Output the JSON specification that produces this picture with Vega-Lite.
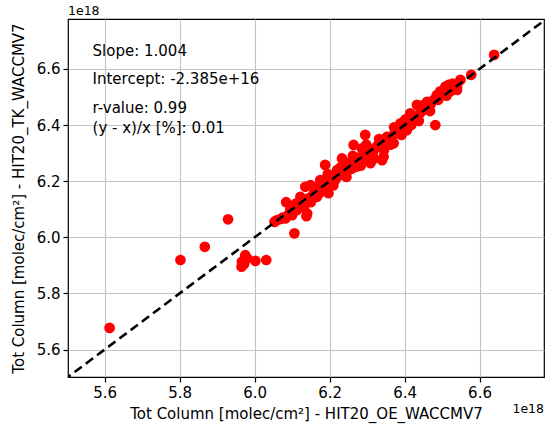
{
  "$schema": "https://vega.github.io/schema/vega-lite/v6.json",
  "width": 476,
  "height": 358,
  "autosize": {"type": "none"},
  "padding": {"left": 68, "top": 19, "right": 3, "bottom": 47},
  "background": "white",
  "title": {"text": "1e18", "anchor": "start", "frame": "group", "fontSize": 12.5, "fontWeight": "normal", "font": "DejaVu Sans", "color": "black", "offset": 2},
  "config": {
    "font": "DejaVu Sans",
    "view": {"stroke": "black", "strokeWidth": 1.2},
    "axis": {
      "domain": false,
      "grid": true,
      "gridColor": "#c4c4c4",
      "gridWidth": 1.1,
      "tickColor": "black",
      "tickSize": 5,
      "tickWidth": 1.2,
      "labelFont": "DejaVu Sans",
      "labelFontSize": 15,
      "labelColor": "black",
      "titleFont": "DejaVu Sans",
      "titleFontSize": 15,
      "titleFontWeight": "normal",
      "titleColor": "black"
    }
  },
  "datasets": {
    "pts": [
      {"x": 5.613, "y": 5.677}, {"x": 5.802, "y": 5.919}, {"x": 5.867, "y": 5.966}, {"x": 5.929, "y": 6.064},
      {"x": 5.965, "y": 5.895}, {"x": 5.966, "y": 5.913}, {"x": 5.975, "y": 5.936}, {"x": 5.980, "y": 5.925},
      {"x": 5.972, "y": 5.905}, {"x": 6.002, "y": 5.916}, {"x": 6.031, "y": 5.919}, {"x": 6.106, "y": 6.014},
      {"x": 6.053, "y": 6.055}, {"x": 6.058, "y": 6.060}, {"x": 6.069, "y": 6.065}, {"x": 6.075, "y": 6.070},
      {"x": 6.082, "y": 6.067}, {"x": 6.084, "y": 6.125}, {"x": 6.090, "y": 6.080}, {"x": 6.095, "y": 6.097},
      {"x": 6.100, "y": 6.079}, {"x": 6.105, "y": 6.100}, {"x": 6.113, "y": 6.097}, {"x": 6.122, "y": 6.144},
      {"x": 6.131, "y": 6.109}, {"x": 6.138, "y": 6.075}, {"x": 6.140, "y": 6.085}, {"x": 6.135, "y": 6.180},
      {"x": 6.145, "y": 6.140}, {"x": 6.149, "y": 6.186}, {"x": 6.155, "y": 6.150}, {"x": 6.160, "y": 6.165},
      {"x": 6.166, "y": 6.144}, {"x": 6.170, "y": 6.180}, {"x": 6.175, "y": 6.204}, {"x": 6.180, "y": 6.170},
      {"x": 6.185, "y": 6.190}, {"x": 6.188, "y": 6.258}, {"x": 6.197, "y": 6.157}, {"x": 6.200, "y": 6.200},
      {"x": 6.205, "y": 6.190}, {"x": 6.211, "y": 6.216}, {"x": 6.215, "y": 6.205}, {"x": 6.220, "y": 6.240},
      {"x": 6.225, "y": 6.220}, {"x": 6.233, "y": 6.281}, {"x": 6.235, "y": 6.230}, {"x": 6.240, "y": 6.225},
      {"x": 6.246, "y": 6.264}, {"x": 6.251, "y": 6.240}, {"x": 6.255, "y": 6.255}, {"x": 6.260, "y": 6.245},
      {"x": 6.264, "y": 6.329}, {"x": 6.269, "y": 6.270}, {"x": 6.273, "y": 6.252}, {"x": 6.277, "y": 6.269},
      {"x": 6.280, "y": 6.285}, {"x": 6.286, "y": 6.317}, {"x": 6.290, "y": 6.280}, {"x": 6.295, "y": 6.365},
      {"x": 6.300, "y": 6.300}, {"x": 6.305, "y": 6.295}, {"x": 6.309, "y": 6.264}, {"x": 6.310, "y": 6.310},
      {"x": 6.315, "y": 6.300}, {"x": 6.320, "y": 6.315}, {"x": 6.326, "y": 6.323}, {"x": 6.330, "y": 6.330},
      {"x": 6.335, "y": 6.323}, {"x": 6.340, "y": 6.275}, {"x": 6.344, "y": 6.287}, {"x": 6.350, "y": 6.345},
      {"x": 6.353, "y": 6.358}, {"x": 6.360, "y": 6.350}, {"x": 6.365, "y": 6.360}, {"x": 6.371, "y": 6.335},
      {"x": 6.375, "y": 6.375}, {"x": 6.380, "y": 6.370}, {"x": 6.385, "y": 6.385}, {"x": 6.389, "y": 6.406},
      {"x": 6.395, "y": 6.390}, {"x": 6.400, "y": 6.395}, {"x": 6.406, "y": 6.382}, {"x": 6.410, "y": 6.410},
      {"x": 6.415, "y": 6.442}, {"x": 6.420, "y": 6.415}, {"x": 6.424, "y": 6.430}, {"x": 6.430, "y": 6.425},
      {"x": 6.433, "y": 6.472}, {"x": 6.440, "y": 6.440}, {"x": 6.445, "y": 6.450}, {"x": 6.451, "y": 6.454},
      {"x": 6.455, "y": 6.460}, {"x": 6.460, "y": 6.483}, {"x": 6.465, "y": 6.465}, {"x": 6.470, "y": 6.475},
      {"x": 6.478, "y": 6.490}, {"x": 6.482, "y": 6.400}, {"x": 6.486, "y": 6.507}, {"x": 6.490, "y": 6.490},
      {"x": 6.500, "y": 6.510}, {"x": 6.509, "y": 6.537}, {"x": 6.517, "y": 6.543}, {"x": 6.522, "y": 6.520},
      {"x": 6.530, "y": 6.530}, {"x": 6.540, "y": 6.537}, {"x": 6.540, "y": 6.525}, {"x": 6.549, "y": 6.561},
      {"x": 6.578, "y": 6.579}, {"x": 6.639, "y": 6.650},
      {"x": 6.110, "y": 6.120}, {"x": 6.150, "y": 6.125}, {"x": 6.175, "y": 6.160}, {"x": 6.195, "y": 6.225},
      {"x": 6.210, "y": 6.185}, {"x": 6.230, "y": 6.250}, {"x": 6.245, "y": 6.215}, {"x": 6.262, "y": 6.290},
      {"x": 6.283, "y": 6.255}, {"x": 6.298, "y": 6.330}, {"x": 6.318, "y": 6.280}, {"x": 6.332, "y": 6.350},
      {"x": 6.345, "y": 6.310}, {"x": 6.362, "y": 6.330}, {"x": 6.372, "y": 6.392}, {"x": 6.392, "y": 6.365},
      {"x": 6.402, "y": 6.420}, {"x": 6.418, "y": 6.400}, {"x": 6.438, "y": 6.415}, {"x": 6.448, "y": 6.470},
      {"x": 6.468, "y": 6.450}, {"x": 6.495, "y": 6.520}, {"x": 6.512, "y": 6.505}, {"x": 6.528, "y": 6.548}
    ],
    "diag": [{"x": 5.4, "y": 5.4}, {"x": 6.9, "y": 6.9}],
    "notes": [
      {"x": 5.5675, "y": 6.665, "label": "Slope: 1.004"},
      {"x": 5.5675, "y": 6.564, "label": "Intercept: -2.385e+16"},
      {"x": 5.5675, "y": 6.462, "label": "r-value: 0.99"},
      {"x": 5.5675, "y": 6.388, "label": "(y - x)/x [%]: 0.01"}
    ],
    "offset": [{"x": 6.772, "y": 5.502, "label": "1e18"}]
  },
  "encoding": {
    "x": {"field": "x", "type": "quantitative", "scale": {"domain": [5.502, 6.772], "nice": false, "zero": false},
      "axis": {"values": [5.6, 5.8, 6.0, 6.2, 6.4, 6.6], "format": ".1f", "title": "Tot Column [molec/cm²] - HIT20_OE_WACCMV7", "titlePadding": 6, "labelPadding": 3}},
    "y": {"field": "y", "type": "quantitative", "scale": {"domain": [5.502, 6.778], "nice": false, "zero": false},
      "axis": {"values": [5.6, 5.8, 6.0, 6.2, 6.4, 6.6], "format": ".1f", "title": "Tot Column [molec/cm²] - HIT20_TK_WACCMV7", "titlePadding": 10, "labelPadding": 3}}
  },
  "layer": [
    {"data": {"name": "pts"}, "mark": {"type": "circle", "color": "#ff0000", "opacity": 1, "size": 115, "clip": true}},
    {"data": {"name": "diag"}, "mark": {"type": "line", "color": "black", "strokeWidth": 2.6, "strokeDash": [9, 5], "clip": true}},
    {"data": {"name": "notes"}, "mark": {"type": "text", "align": "left", "baseline": "middle", "fontSize": 15, "color": "black", "font": "DejaVu Sans"},
      "encoding": {"text": {"field": "label"}}},
    {"data": {"name": "offset"}, "mark": {"type": "text", "align": "right", "baseline": "middle", "fontSize": 12.5, "color": "black", "dy": 32, "font": "DejaVu Sans"},
      "encoding": {"text": {"field": "label"}}}
  ]
}
